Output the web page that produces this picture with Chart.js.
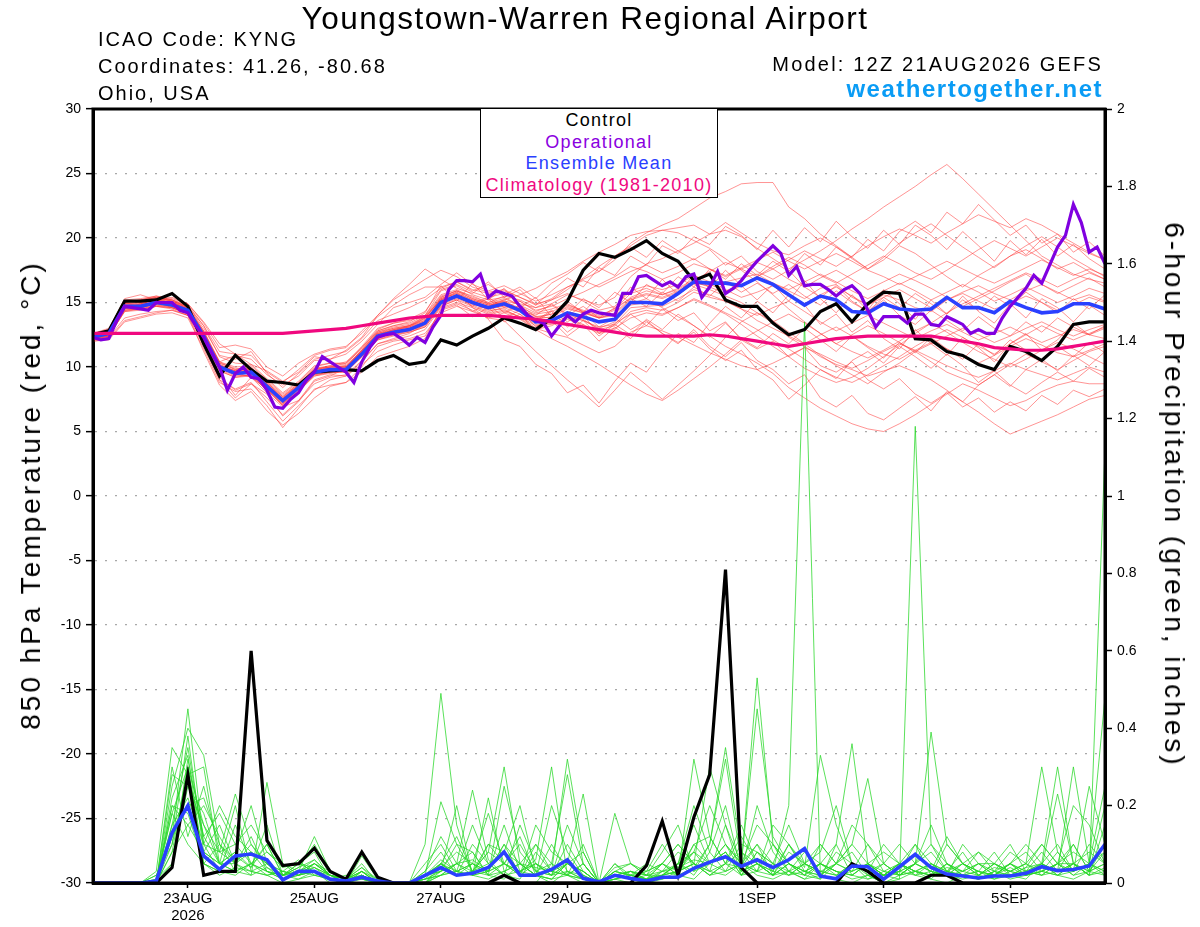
<!DOCTYPE html>
<html>
<head>
<meta charset="utf-8">
<script src="https://cdn.jsdelivr.net/npm/chart.js"></script>
<style>
  body { margin: 0; background: #fff; }
  #wrap { position: relative; width: 1200px; height: 927px; overflow: hidden; font-family: "Liberation Sans", Arial, sans-serif; color: #000; }
  #chart { position: absolute; left: 0; top: 0; }
  .txt { position: absolute; white-space: nowrap; }
  #title { left: 585px; top: 3px; font-size: 31.5px; line-height: 31.5px; letter-spacing: 1.5px; transform: translateX(-50%); }
  .info { left: 98px; font-size: 20px; line-height: 20px; letter-spacing: 2px; }
  .right { right: 97px; text-align: right; }
  #site { font-size: 24px; line-height: 24px; font-weight: bold; letter-spacing: 1.5px; color: #0a9cf5; top: 77px; }
  #legend { position: absolute; left: 480px; top: 108px; width: 236px; height: 87px; border: 1.5px solid #000; background: #fff; text-align: center; font-size: 18px; line-height: 21.5px; letter-spacing: 1.3px; padding-top: 1px; }
  .axtitle { position: absolute; font-size: 28px; line-height: 28px; letter-spacing: 3px; white-space: nowrap; }
</style>
</head>
<body>
<div id="wrap">
  <canvas id="chart" width="1200" height="927"></canvas>
  <div id="title" class="txt">Youngstown-Warren Regional Airport</div>
  <div class="txt info" style="top:29px">ICAO Code: KYNG</div>
  <div class="txt info" style="top:56px">Coordinates: 41.26, -80.68</div>
  <div class="txt info" style="top:83px">Ohio, USA</div>
  <div class="txt info right" style="top:54px; left:auto; letter-spacing:2.2px">Model: 12Z 21AUG2026 GEFS</div>
  <div id="site" class="txt right">weathertogether.net</div>
  <div id="legend">
    <div style="color:#000">Control</div>
    <div style="color:#8a00e0">Operational</div>
    <div style="color:#2a40ff">Ensemble Mean</div>
    <div style="color:#f0087f">Climatology (1981-2010)</div>
  </div>
  <div class="axtitle" id="ytitle" style="left:31px; top:495px; transform: translate(-50%, -50%) rotate(-90deg);">850 hPa Temperature (red, °C)</div>
  <div class="axtitle" id="y2title" style="left:1174px; top:495px; transform: translate(-50%, -50%) rotate(90deg);">6-hour Precipitation (green, inches)</div>
</div>
<script>
// forecast hours after 12Z 21AUG2026, ticks at 00Z of the labelled day
const tickHours = [36, 84, 132, 180, 252, 300, 348];
const tickLabels = ['23AUG', '25AUG', '27AUG', '29AUG', '1SEP', '3SEP', '5SEP'];
const yearLabel = '2026';

// 6-hourly series (65 values, 0..384h)
const controlTemp = [
  12.5, 12.8, 15.1, 15.1, 15.2, 15.7, 14.7, 11.8, 9.3, 10.9,
  9.8, 8.9, 8.8, 8.6, 9.6, 9.7, 9.8, 9.7, 10.5, 10.9,
  10.2, 10.4, 12.1, 11.7, 12.4, 13.0, 13.8, 13.4, 12.9, 13.8,
  15.1, 17.5, 18.8, 18.5, 19.1, 19.8, 18.8, 18.2, 16.7, 17.2,
  15.2, 14.7, 14.7, 13.4, 12.5, 12.9, 14.3, 14.9, 13.5, 14.9,
  15.8, 15.7, 12.2, 12.1, 11.2, 10.9, 10.2, 9.8, 11.6, 11.2,
  10.5, 11.6, 13.3, 13.5, 13.5
];
const meanTemp = [
  12.3, 12.6, 14.7, 14.7, 15.0, 14.8, 14.4, 12.4, 10.0, 9.5,
  9.6, 8.5, 7.4, 8.4, 9.6, 9.8, 9.8, 11.0, 12.4, 12.7,
  12.9, 13.4, 15.0, 15.5, 15.0, 14.6, 14.9, 14.4, 13.5, 13.6,
  14.2, 13.9, 13.5, 13.7, 15.0, 15.0, 14.9, 15.7, 16.6, 16.5,
  16.5, 16.3, 16.9, 16.4, 15.6, 14.8, 15.5, 15.2, 14.3, 14.2,
  14.9, 14.5, 14.4, 14.5, 15.4, 14.6, 14.6, 14.2, 15.1, 14.6,
  14.2, 14.3, 14.9, 14.9, 14.5
];
const climoTemp = [
  12.6, 12.6, 12.6, 12.6, 12.6, 12.6, 12.6, 12.6, 12.6, 12.6,
  12.6, 12.6, 12.6, 12.7, 12.8, 12.9, 13.0, 13.2, 13.4, 13.6,
  13.8, 13.9, 14.0, 14.0, 14.0, 14.0, 13.9, 13.8, 13.7, 13.5,
  13.3, 13.1, 12.9, 12.7, 12.5, 12.4, 12.4, 12.4, 12.4, 12.5,
  12.4, 12.2, 12.0, 11.8, 11.6, 11.8, 12.0, 12.2, 12.3, 12.4,
  12.4, 12.4, 12.4, 12.4, 12.2, 12.0, 11.8, 11.5, 11.4, 11.3,
  11.3, 11.4, 11.6, 11.8, 12.0
];
// operational run is 3-hourly (129 values)
const operationalTemp = [
  12.3, 12.1, 12.2, 13.6, 14.7, 14.6, 14.5, 14.4,
  15.0, 15.0, 15.0, 14.4, 14.2, 13.2, 12.3, 11.1,
  10.0, 8.2, 9.5, 10.0, 9.2, 9.1, 8.2, 6.9,
  6.8, 7.5, 8.0, 9.0, 9.6, 10.8, 10.4, 10.0,
  9.6, 8.8, 10.4, 11.5, 12.3, 12.5, 12.6, 12.2,
  11.7, 12.3, 11.9, 13.1, 14.0, 16.0, 16.7, 16.7,
  16.6, 17.2, 15.4, 15.9, 15.7, 15.5, 14.7, 14.0,
  13.6, 13.4, 12.4, 13.2, 14.0, 13.5, 14.1, 14.4,
  14.2, 14.1, 14.0, 15.7, 15.7, 17.0, 17.1, 16.7,
  16.3, 16.6, 16.2, 17.0, 17.2, 15.4, 16.2, 17.4,
  15.7, 16.1, 16.7, 17.5, 18.2, 18.8, 19.4, 18.8,
  17.1, 17.8, 16.3, 16.4, 16.4, 16.0, 15.5, 16.0,
  16.3, 15.7, 14.4, 13.1, 13.9, 13.9, 13.9, 13.4,
  14.1, 14.1, 13.3, 13.2, 13.9, 13.6, 13.3, 12.6,
  12.9, 12.6, 12.6, 13.8, 14.7, 15.4, 16.1, 17.1,
  16.5, 17.9, 19.3, 20.2, 22.6, 21.2, 18.9, 19.3,
  18.0
];

// ensemble members, 850 hPa temperature
const memberTemps = [
  [12.1,12.4,14.5,14.9,15.3,15.0,14.6,12.8,10.4,9.8,9.9,8.9,7.8,8.7,9.9,10.1,10.4,11.5,12.9,13.4,13.6,14.0,
   15.6,16.0,15.4,15.0,15.5,15.2,14.6,14.9,15.6,15.2,14.8,15.4,17.0,18.0,18.4,19.0,19.6,20.3,20.6,20.1,19.2,
   18.4,17.6,18.3,19.0,19.8,20.7,21.5,22.4,23.2,24.0,24.9,25.7,24.6,23.4,22.2,21.0,19.8,18.6,17.9,17.2,16.8,16.5],
  [12.4,12.8,15.0,15.2,15.5,15.3,14.9,13.4,11.5,11.7,11.4,10.0,9.3,10.3,11.0,11.4,11.6,12.6,13.9,14.8,15.6,16.2,
   16.2,16.6,16.0,15.7,15.9,15.4,14.8,15.3,16.2,16.8,17.4,18.3,19.6,20.4,21.0,21.5,22.3,23.1,23.6,24.2,24.3,
   24.3,22.4,21.5,20.3,19.4,18.5,17.6,18.3,19.4,18.8,17.9,17.0,16.2,17.1,17.8,18.6,19.1,18.4,17.6,18.1,17.4,16.8],
  [12.2,12.5,14.6,14.6,14.9,14.8,14.4,12.3,9.9,9.4,9.3,8.2,7.1,8.2,9.3,9.6,9.7,10.9,12.4,12.9,13.1,13.8,
   15.4,15.9,15.3,14.9,15.2,15.6,16.1,16.8,17.4,18.2,18.9,19.5,20.2,20.5,20.6,20.8,21.0,20.3,21.2,20.4,19.6,
   19.0,18.7,19.4,20.0,19.3,18.4,17.6,18.5,19.6,20.4,21.1,20.2,19.3,18.5,17.7,18.6,19.4,20.1,19.3,18.4,17.7,17.0],
  [12.0,12.2,13.6,13.9,14.2,14.4,14.0,11.2,8.6,7.4,8.1,6.6,5.5,6.4,7.6,8.5,8.8,9.6,10.8,11.2,11.6,12.2,
   14.5,14.9,14.4,13.8,13.6,12.4,11.2,10.1,9.0,8.0,6.9,8.2,9.6,8.6,7.5,8.6,9.7,10.9,12.3,13.5,14.2,
   13.6,12.7,11.8,10.9,10.1,9.4,8.7,9.6,10.3,11.2,10.4,9.6,9.1,8.6,9.4,10.2,11.0,10.4,9.8,10.5,11.2,11.6],
  [12.5,12.9,14.9,15.0,15.2,15.0,14.5,12.6,10.1,9.7,9.9,8.7,7.6,8.6,9.8,10.0,10.1,11.3,12.7,13.1,13.3,13.9,
   15.5,15.9,15.5,15.0,15.3,14.8,14.2,14.5,14.9,14.3,13.8,14.0,14.9,15.3,14.6,13.9,13.2,12.4,11.6,11.0,10.3,
   9.5,8.4,7.6,6.8,6.2,5.6,5.2,5.0,5.6,6.3,7.1,7.9,8.7,8.2,7.6,7.0,7.4,8.1,8.6,8.9,8.7,8.7],
  [12.3,12.6,14.8,14.8,15.1,14.9,14.5,12.5,10.2,9.6,9.8,8.6,7.5,8.5,9.6,9.9,9.9,11.2,12.5,12.9,13.2,13.6,
   15.1,15.6,15.1,14.6,14.9,14.5,13.7,13.9,14.5,14.2,13.8,14.1,15.2,15.6,15.3,15.8,16.4,16.0,15.5,15.0,14.2,
   13.4,12.3,11.6,10.8,10.2,9.8,9.3,9.7,10.1,9.6,9.0,8.2,7.3,6.5,5.6,4.8,5.3,5.8,6.3,6.9,7.5,7.8],
  [12.1,12.3,14.4,14.6,14.8,14.7,14.2,12.1,9.7,9.2,9.4,8.3,7.0,8.1,9.4,9.6,9.6,10.8,12.1,12.5,12.8,13.2,
   14.8,15.3,14.8,14.3,14.6,14.1,13.3,13.4,13.9,13.6,13.1,13.3,14.6,14.7,14.8,15.6,16.5,16.3,16.6,16.9,17.2,
   16.5,15.9,15.3,16.1,16.4,15.4,14.8,15.6,15.2,14.6,14.3,15.2,15.8,16.3,15.7,15.2,15.9,16.4,15.8,15.2,15.6,15.1],
  [12.6,13.0,15.2,15.3,15.5,15.2,14.8,13.2,10.8,10.3,10.2,9.1,8.0,8.9,10.1,10.3,10.2,11.5,12.8,13.2,13.4,14.0,
   15.9,16.3,15.6,15.2,15.4,14.8,13.9,13.8,14.2,13.7,12.9,13.2,14.3,14.6,14.4,15.0,15.8,15.4,15.1,14.5,13.6,
   13.0,12.4,11.8,12.5,13.1,12.4,11.6,11.0,10.6,11.3,11.9,11.4,10.8,10.3,10.9,11.6,12.2,11.7,11.1,10.8,11.3,11.8],
  [12.2,12.4,14.3,14.5,14.7,14.6,14.1,12.6,10.4,10.9,10.6,9.4,8.6,9.3,10.5,10.6,11.0,12.0,13.3,14.6,15.0,15.4,
   16.4,17.3,16.4,15.9,16.3,15.7,15.1,15.6,16.2,16.7,16.2,16.8,17.4,17.9,17.3,17.8,18.4,17.6,17.0,17.6,18.1,
   17.6,16.8,16.2,16.9,17.5,16.8,16.0,16.6,17.2,16.7,16.1,15.4,14.7,15.3,15.9,16.6,17.2,16.4,15.7,16.3,16.9,16.2],
  [12.0,12.1,13.5,13.8,14.1,14.2,13.8,11.4,8.8,8.1,8.3,7.0,5.3,6.8,8.3,8.6,8.8,10.0,11.6,12.0,12.2,12.6,
   14.2,14.7,14.3,13.8,14.2,13.7,12.9,13.2,13.8,13.3,12.7,13.0,13.8,14.2,14.0,14.6,15.3,14.8,14.2,13.6,12.9,
   12.1,11.4,10.6,9.8,9.2,8.8,9.4,10.1,10.8,11.6,12.3,12.9,12.3,11.6,11.0,11.8,12.5,13.2,12.6,12.1,12.6,13.1],
  [12.4,12.7,15.0,15.2,15.4,15.1,14.7,13.2,11.2,11.0,10.9,9.6,8.8,9.8,10.9,11.3,11.5,12.8,14.0,15.2,16.0,16.8,
   17.5,17.0,16.2,15.8,16.0,15.4,14.9,15.2,15.7,15.1,14.4,14.7,15.9,16.3,16.0,16.4,17.1,16.6,16.0,15.4,15.8,
   16.3,15.5,14.9,15.6,16.2,15.5,14.8,15.4,16.0,15.3,14.6,15.2,15.7,15.1,14.5,14.9,15.5,15.0,14.4,14.8,15.4,15.0],
  [12.3,12.7,14.7,14.8,15.1,14.9,14.4,12.4,10.0,9.6,9.7,8.5,7.4,8.4,9.7,9.9,10.0,11.2,12.6,12.9,13.1,13.5,
   15.2,15.6,15.0,14.4,14.5,13.8,12.9,12.2,11.6,10.9,10.2,9.4,8.6,7.9,7.4,8.2,9.1,10.0,11.0,12.1,12.8,
   13.5,14.1,13.4,12.6,11.8,12.5,13.2,12.6,11.9,11.2,11.8,12.4,13.0,12.5,11.9,12.4,13.0,13.5,12.9,12.4,12.9,13.3],
  [12.5,12.8,14.8,14.9,15.2,15.0,14.6,12.7,10.3,9.9,9.8,8.8,7.7,8.7,9.8,10.1,10.0,11.3,12.7,13.0,13.2,13.8,
   15.3,15.7,15.2,14.8,15.0,14.6,14.1,14.3,14.8,14.4,14.0,14.5,15.7,16.1,15.6,16.0,16.7,17.4,18.1,17.6,17.0,
   17.8,18.5,17.9,17.1,16.5,17.2,17.9,18.6,18.0,17.3,16.8,17.5,18.3,19.1,19.8,19.2,18.6,19.3,20.0,19.4,18.8,18.3],
  [12.2,12.5,14.5,14.7,14.9,14.7,14.3,12.3,9.9,9.4,9.6,8.4,7.2,8.3,9.5,9.8,9.8,11.0,12.3,12.7,12.9,13.3,
   14.9,15.4,14.9,14.5,14.7,14.3,13.6,13.7,14.1,13.6,13.0,13.5,14.8,15.0,14.7,15.3,16.0,15.6,15.1,14.5,14.0,
   14.6,15.1,14.3,13.5,12.8,13.4,14.0,13.4,12.8,12.2,12.8,13.3,12.7,12.1,12.6,13.1,12.5,11.9,12.4,12.9,12.5,12.2],
  [12.4,12.6,14.6,14.8,15.0,14.8,14.3,12.4,10.1,9.5,9.6,8.6,7.5,8.5,9.7,9.9,10.0,11.2,12.5,12.8,13.0,13.5,
   15.1,15.5,15.0,14.7,15.1,14.9,14.6,15.2,16.0,16.9,17.8,18.6,19.4,20.2,20.6,20.4,19.8,19.2,18.4,17.5,16.6,
   15.6,14.5,13.5,12.6,11.8,11.2,10.7,11.3,12.0,12.8,13.4,12.7,11.9,11.2,10.6,10.0,10.6,11.3,11.9,11.4,10.8,10.2],
  [12.3,12.5,14.6,14.6,14.9,14.8,14.4,12.5,10.0,9.5,9.5,8.5,7.4,8.4,9.6,9.7,9.7,10.9,12.3,12.6,12.8,13.3,
   15.0,15.4,14.9,14.5,14.8,14.4,13.8,14.1,14.7,14.3,13.9,14.4,15.4,15.9,15.6,16.1,16.8,16.4,15.9,16.4,17.0,
   16.5,16.0,16.6,17.2,16.6,15.9,15.3,15.9,16.5,15.9,15.2,15.8,16.4,15.8,15.1,15.6,16.2,15.6,15.0,15.5,16.1,15.7],
  [12.1,12.4,14.4,14.5,14.8,14.6,14.2,12.2,9.8,9.3,9.4,8.3,7.2,8.2,9.4,9.6,9.6,10.8,12.2,12.5,12.7,13.1,
   14.7,15.2,14.7,14.2,14.4,13.9,13.2,13.3,13.7,13.2,12.6,12.9,14.1,14.4,14.1,14.6,15.2,14.7,14.1,13.3,12.4,
   11.6,10.8,9.9,9.3,8.8,9.2,9.9,10.8,11.7,12.6,13.4,14.2,14.9,15.5,16.1,16.7,17.3,16.8,16.2,16.8,17.3,16.8],
  [12.4,12.8,14.9,15.0,15.3,15.1,14.6,12.6,10.2,9.7,9.8,8.7,7.6,8.6,9.8,10.0,10.1,11.3,12.6,13.0,13.2,13.7,
   15.3,15.8,15.2,14.8,15.0,14.5,13.9,14.1,14.6,14.2,13.8,14.2,15.3,15.7,15.4,15.9,16.6,16.2,15.7,16.3,17.0,
   17.6,18.3,19.0,18.4,17.8,18.6,19.4,20.1,20.7,20.2,19.6,20.4,21.1,21.8,21.3,20.8,21.5,21.0,20.3,19.6,18.9,18.3],
  [12.2,12.4,14.4,14.5,14.7,14.6,14.1,11.8,9.2,8.2,8.7,7.6,6.3,7.4,8.7,9.2,9.4,10.5,11.8,12.1,12.4,12.9,
   14.6,15.0,14.6,14.1,14.3,13.9,13.0,12.6,12.3,11.7,11.1,11.6,12.7,13.2,12.8,12.3,11.7,11.1,10.6,10.1,9.8,
   10.3,10.9,11.5,11.0,10.4,9.9,10.5,11.2,11.8,11.3,10.7,10.1,9.6,9.2,9.7,10.3,9.8,9.4,9.0,9.5,10.0,9.6],
  [12.5,12.9,15.1,15.2,15.4,15.1,14.7,12.8,10.4,10.0,10.1,9.0,7.9,8.8,10.0,10.3,10.3,11.6,13.0,13.4,13.7,14.3,
   16.0,16.4,15.8,15.4,15.7,15.1,14.4,14.7,15.3,15.8,16.4,17.0,17.8,17.4,16.8,17.3,18.0,17.6,17.1,17.7,18.3,
   18.9,18.2,17.6,18.2,18.8,18.2,17.5,17.0,16.4,17.0,17.6,18.2,17.6,17.0,16.5,17.1,17.7,18.3,17.7,17.1,17.6,17.1],
  [12.3,12.6,14.5,14.9,15.0,14.6,14.2,12.0,9.0,7.6,8.7,7.9,6.2,7.3,8.9,9.3,9.9,11.1,12.6,12.8,13.2,13.9,
   15.2,15.8,14.6,13.7,12.1,11.6,10.2,9.5,8.0,8.6,7.2,8.9,10.3,9.6,11.2,12.6,11.9,13.4,14.7,13.8,15.1,
   14.2,15.6,14.8,13.3,14.1,12.7,13.6,12.2,11.4,12.9,11.8,10.9,12.3,11.5,10.4,11.8,12.6,11.3,12.1,13.4,12.5,13.0],
  [12.6,12.9,15.3,15.6,15.2,15.4,14.9,13.5,11.8,11.0,10.2,9.7,8.9,9.6,10.8,10.6,11.3,12.3,14.0,15.3,16.4,17.6,
   16.8,16.1,15.7,16.6,15.4,16.0,14.8,15.9,16.9,16.2,17.7,17.1,18.6,17.9,19.4,18.8,20.1,19.5,20.9,20.2,19.1,
   20.6,19.3,20.8,19.7,21.3,20.1,19.2,20.6,19.5,21.0,20.2,19.1,20.5,19.4,18.2,19.8,18.7,19.9,18.6,19.5,18.4,17.6],
  [12.2,12.5,14.7,14.5,15.1,14.7,14.3,12.3,9.8,9.6,9.2,8.3,7.1,8.4,9.5,9.9,9.6,10.9,12.2,12.7,13.0,13.4,
   15.0,15.6,14.7,15.3,14.2,14.8,13.5,14.3,13.1,14.0,12.6,13.4,14.1,13.2,14.5,13.6,14.2,12.8,13.5,12.1,11.4,
   12.0,10.8,11.5,10.1,9.6,10.4,9.0,8.3,9.1,7.9,7.2,8.0,6.9,7.6,6.5,7.3,6.6,7.8,7.1,8.2,7.7,8.3],
  [12.4,12.7,14.9,15.0,15.3,15.2,14.6,12.7,10.3,9.8,10.0,8.8,7.7,8.6,9.9,10.0,10.3,11.4,12.8,13.2,13.5,14.2,
   16.3,15.1,16.5,15.2,16.1,14.6,15.4,13.9,15.1,14.2,15.6,14.5,16.2,15.3,16.8,15.6,17.2,16.1,17.5,16.3,15.2,
   16.4,15.1,16.7,15.3,14.2,15.6,14.4,16.0,14.9,13.7,15.2,14.1,15.5,14.3,13.4,14.9,13.8,15.3,14.6,13.5,14.8,14.0],
  [12.1,12.3,13.8,14.1,14.3,14.4,14.0,11.6,9.0,8.3,8.8,7.3,5.8,7.0,8.2,9.0,9.3,10.2,11.2,11.7,12.1,12.4,
   14.4,14.8,13.9,14.6,13.5,14.1,12.8,13.6,12.4,13.3,12.0,13.1,12.2,13.5,12.6,11.8,12.9,11.6,10.8,11.9,10.5,
   9.8,8.7,9.4,7.6,6.9,7.8,6.4,5.9,6.8,7.7,6.6,8.1,7.3,8.6,9.4,8.5,9.8,10.6,9.7,10.9,10.1,11.2],
  [12.3,12.6,14.7,14.7,15.0,14.9,14.5,12.6,10.1,9.7,9.7,8.7,7.5,8.5,9.7,10.0,10.0,11.2,12.5,12.8,13.1,13.6,
   15.2,15.7,15.1,14.7,15.2,14.4,14.0,14.9,14.1,15.3,14.6,15.8,15.0,16.4,15.7,17.0,16.2,17.6,16.8,18.0,17.1,
   18.2,17.4,18.8,17.9,19.3,18.5,19.9,19.0,20.5,21.3,20.4,22.0,21.1,22.6,21.4,20.2,21.0,19.6,20.3,18.9,19.7,18.6],
  [12.2,12.4,14.3,14.4,14.7,14.5,14.0,12.0,9.7,9.2,9.3,8.2,7.0,8.1,9.3,9.5,9.7,10.8,12.1,12.4,12.7,13.1,
   14.7,15.2,14.3,14.9,13.8,14.4,13.1,13.9,12.7,13.6,12.4,13.3,12.5,13.7,12.9,14.1,13.2,12.3,13.4,12.2,11.5,
   12.6,11.8,13.0,12.1,11.2,12.4,11.5,10.7,11.9,11.1,12.3,11.4,10.6,11.8,10.9,12.1,11.3,10.5,11.6,10.8,11.9,11.1],
  [12.5,12.8,15.0,15.1,15.4,15.2,14.7,13.0,10.9,10.6,11.2,9.5,8.4,9.5,10.6,10.9,11.2,12.2,13.6,14.1,14.6,15.2,
   16.1,16.6,15.9,16.4,15.6,16.2,15.3,16.5,17.2,18.1,17.4,18.6,19.3,18.5,19.8,19.0,18.3,19.1,17.9,18.6,17.4,
   16.8,17.5,16.2,15.4,16.3,15.1,14.3,15.2,14.0,13.3,14.4,13.6,12.8,13.9,13.0,12.4,13.5,12.7,13.8,13.1,12.5,13.2],
  [12.3,12.5,14.6,14.8,14.9,14.8,14.3,12.4,10.0,9.5,9.7,8.5,7.3,8.4,9.6,9.8,9.9,11.0,12.4,12.7,13.0,13.5,
   15.1,15.5,14.9,15.4,14.6,15.1,14.3,14.8,14.0,14.7,13.8,14.6,15.3,14.7,15.8,15.1,16.2,15.5,16.6,15.8,16.5,
   15.7,16.4,15.5,14.8,15.9,15.0,14.3,15.4,14.6,15.7,14.9,14.1,15.2,14.4,15.5,14.7,15.8,15.0,14.2,15.3,14.5,15.6],
  [12.4,12.7,14.8,14.9,15.2,15.0,14.5,12.2,9.4,7.8,9.2,8.0,6.9,7.4,9.0,9.4,9.3,10.4,11.8,12.2,12.6,13.3,
   15.4,15.9,15.3,14.9,15.1,14.3,13.6,14.4,13.5,14.2,13.1,13.8,12.9,13.6,12.6,11.9,12.7,11.4,10.5,11.3,9.8,
   9.0,7.5,8.6,9.8,9.1,10.5,11.2,10.3,11.6,10.8,9.9,11.0,10.1,8.8,9.7,8.6,7.9,8.8,9.6,8.9,9.9,9.2]
];

// 6-hour precipitation (inches)
const controlPrecip = [
  0, 0, 0, 0, 0, 0.04, 0.28, 0.02, 0.03, 0.03,
  0.60, 0.11, 0.045, 0.05, 0.09, 0.03, 0.01, 0.08, 0.015, 0,
  0, 0, 0, 0, 0, 0, 0.02, 0, 0, 0,
  0, 0, 0, 0, 0, 0.045, 0.16, 0.02, 0.17, 0.28,
  0.81, 0.04, 0, 0, 0, 0, 0, 0, 0.05, 0.03,
  0, 0, 0, 0.02, 0.02, 0, 0, 0, 0, 0,
  0, 0, 0, 0, 0
];
const meanPrecip = [
  0, 0, 0, 0, 0.005, 0.13, 0.20, 0.07, 0.035, 0.07,
  0.075, 0.06, 0.008, 0.03, 0.03, 0.01, 0.005, 0.015, 0.005, 0,
  0, 0.02, 0.04, 0.02, 0.025, 0.04, 0.08, 0.02, 0.02, 0.035,
  0.06, 0.012, 0.003, 0.02, 0.012, 0.005, 0.015, 0.015, 0.038, 0.054,
  0.068, 0.043, 0.06, 0.04, 0.06, 0.089, 0.018, 0.011, 0.044, 0.042,
  0.01, 0.042, 0.074, 0.04, 0.023, 0.018, 0.013, 0.018, 0.018, 0.025,
  0.042, 0.032, 0.035, 0.044, 0.10
];
const memberPrecips = [
  [0,0,0,0,0,0.12,0.45,0.10,0.03,0.02, 0.05,0.02,0,0.01,0.03,0,0,0.02,0,0, 0,0.10,0.49,0.15,0.02,0.01,0.03,0,0,0.05,
   0.02,0,0,0.01,0,0,0.02,0.05,0.08,0.03, 0.02,0.05,0.53,0.10,0.03,0.01,0.02,0.01,0,0.02, 0,0.01,0.03,0.01,0,0.02,0.01,0.03,0.02,0.01, 0.05,0.02,0.01,0.03,0.10],
  [0,0,0,0,0.03,0.35,0.28,0.12,0.05,0.08, 0.04,0.10,0.02,0.04,0.06,0.02,0,0.03,0,0, 0,0.02,0.21,0.10,0.08,0.02,0.01,0.05,0.02,0,
   0.03,0.01,0,0.02,0.01,0,0.01,0.02,0.32,0.12, 0.05,0.02,0.08,0.03,0.20,1.45,0.02,0.01,0.05,0.02, 0,0.02,0.05,0.08,0.03,0.02,0.01,0.02,0.04,0.02, 0.03,0.05,0.02,0.03,0.05],
  [0,0,0,0,0,0.25,0.40,0.33,0.10,0.06, 0.08,0.03,0.01,0.03,0.12,0.03,0.01,0.04,0.01,0, 0,0,0.05,0.12,0.03,0.08,0.30,0.05,0.02,0.01,
   0.02,0.05,0,0.03,0.02,0.01,0.02,0.05,0.03,0.10, 0.32,0.05,0.03,0.02,0.05,0.03,0.01,0.10,0.36,0.05, 0.02,0.01,1.18,0.10,0.03,0.02,0.01,0.03,0.05,0.02, 0.03,0.02,0.05,0.02,0.04],
  [0,0,0,0,0,0.18,0.30,0.15,0.08,0.23, 0.10,0.05,0.02,0.05,0.08,0.01,0,0.07,0.01,0, 0,0,0.02,0.05,0.24,0.06,0.02,0.01,0.08,0.03,
   0.32,0.08,0,0.02,0.01,0.03,0.05,0.02,0.01,0.05, 0.08,0.03,0.05,0.02,0.10,0.04,0.33,0.15,0.05,0.01, 0.02,0.03,0.05,0.39,0.10,0.05,0.02,0.01,0.03,0.05, 0.30,0.08,0.03,0.05,0.02],
  [0,0,0,0,0.02,0.10,0.38,0.08,0.05,0.03, 0.02,0.26,0.05,0.02,0.04,0.01,0.02,0.01,0,0, 0,0.05,0.10,0.03,0.05,0.18,0.05,0.12,0.02,0.01,
   0.05,0.23,0,0.02,0.03,0.01,0.05,0.10,0.05,0.03, 0.15,0.05,0.02,0.01,0.03,0.02,0.05,0.03,0.01,0.02, 0.01,0.03,0.02,0.01,0.05,0.03,0.08,0.03,0.01,0.02, 0.04,0.23,0.05,0.02,1.12],
  [0,0,0,0,0,0.22,0.33,0.05,0.10,0.05, 0.03,0.02,0.03,0.06,0.02,0.01,0,0.02,0,0, 0,0,0.03,0.20,0.02,0.03,0.05,0.03,0.06,0.30,
   0.02,0.01,0,0.05,0.01,0,0.03,0.04,0.08,0.20, 0.10,0.05,0.45,0.12,0.05,0.03,0.02,0.05,0.10,0.27, 0.05,0.02,0.03,0.02,0.10,0.05,0.02,0.05,0.10,0.03, 0.05,0.03,0.30,0.05,0.48],
  [0,0,0,0,0,0.08,0.15,0.20,0.12,0.05, 0.02,0.04,0.01,0.03,0.05,0.02,0.01,0.05,0,0, 0,0.03,0.08,0.02,0.10,0.05,0.08,0.20,0.03,0.02,
   0.10,0.03,0,0.18,0.05,0.02,0.01,0.03,0.05,0.02, 0.05,0.12,0.05,0.03,0.02,0.05,0.08,0.20,0.05,0.03, 0.02,0.05,0.02,0.03,0.12,0.05,0.03,0.02,0.05,0.08, 0.03,0.05,0.10,0.03,0.20],
  [0,0,0,0,0,0.15,0.22,0.10,0.20,0.12, 0.08,0.05,0.02,0.04,0.10,0.03,0.01,0.03,0.01,0, 0,0.02,0.05,0.03,0.02,0.22,0.03,0.05,0.10,0.05,
   0.28,0.05,0,0.03,0.02,0.01,0.05,0.02,0.04,0.10, 0.35,0.08,0.05,0.02,0.03,0.01,0.05,0.03,0.02,0.05, 0.03,0.05,0.10,0.02,0.03,0.05,0.08,0.05,0.02,0.04, 0.10,0.05,0.20,0.15,0.05],
  [0,0,0,0,0.01,0.05,0.25,0.15,0.05,0.08, 0.20,0.05,0.03,0.02,0.03,0.01,0,0.02,0,0, 0,0,0.04,0.08,0.05,0.03,0.10,0.05,0.04,0.03,
   0.02,0.01,0,0.02,0.03,0.01,0.02,0.05,0.20,0.08, 0.03,0.10,0.08,0.05,0.15,0.05,0.10,0.05,0.03,0.05, 0.02,0.03,0.05,0.15,0.05,0.02,0.03,0.01,0.02,0.03, 0.08,0.03,0.05,0.02,0.15],
  [0,0,0,0,0,0.20,0.18,0.05,0.03,0.15, 0.05,0.08,0.05,0.03,0.02,0.03,0.01,0.01,0,0, 0,0.01,0.03,0.05,0.03,0.08,0.05,0.02,0.15,0.08,
   0.05,0.02,0,0.01,0.02,0.03,0.10,0.04,0.06,0.05, 0.08,0.02,0.03,0.10,0.05,0.02,0.01,0.05,0.03,0.10, 0.05,0.02,0.03,0.05,0.02,0.10,0.05,0.02,0.05,0.10, 0.05,0.30,0.05,0.03,0.08],
  [0,0,0,0,0,0.30,0.12,0.25,0.08,0.10, 0.15,0.08,0.04,0.05,0.04,0.02,0,0.03,0,0, 0,0.02,0.05,0.02,0.05,0.03,0.15,0.03,0.02,0.20,
   0.08,0.02,0,0.03,0.05,0.02,0.03,0.08,0.05,0.30, 0.15,0.02,0.08,0.05,0.03,0.08,0.05,0.03,0.02,0.05, 0.02,0.05,0.03,0.02,0.04,0.03,0.05,0.02,0.05,0.03, 0.05,0.10,0.03,0.25,0.10],
  [0,0,0,0,0.02,0.12,0.20,0.08,0.15,0.05, 0.12,0.03,0.02,0.03,0.06,0.02,0.01,0.02,0,0, 0,0.03,0.12,0.05,0.08,0.02,0.05,0.10,0.03,0.05,
   0.02,0.10,0,0.05,0.02,0.01,0.02,0.03,0.10,0.05, 0.03,0.05,0.10,0.02,0.05,0.02,0.10,0.05,0.08,0.02, 0.05,0.10,0.05,0.03,0.02,0.01,0.02,0.04,0.03,0.05, 0.02,0.05,0.08,0.05,0.03],
  [0,0,0,0,0,0.10,0.28,0.30,0.05,0.03, 0.05,0.10,0.02,0.01,0.02,0.01,0,0.01,0,0, 0,0.01,0.02,0.03,0.15,0.05,0.02,0.03,0.05,0.02,
   0.15,0.05,0,0.02,0.01,0.02,0.08,0.15,0.03,0.05, 0.10,0.03,0.20,0.08,0.03,0.05,0.03,0.02,0.05,0.03, 0.10,0.05,0.02,0.05,0.03,0.08,0.02,0.05,0.03,0.02, 0.05,0.02,0.03,0.10,0.05],
  [0,0,0,0,0,0.05,0.32,0.12,0.18,0.10, 0.05,0.03,0.01,0.02,0.05,0.03,0.01,0.04,0,0, 0,0.02,0.06,0.03,0.02,0.10,0.08,0.05,0.02,0.01,
   0.05,0.03,0,0.01,0.02,0.05,0.03,0.02,0.10,0.12, 0.05,0.08,0.03,0.15,0.10,0.03,0.05,0.10,0.02,0.01, 0.03,0.02,0.05,0.10,0.05,0.02,0.01,0.03,0.08,0.05, 0.03,0.08,0.03,0.05,0.25],
  [0,0,0,0,0,0.28,0.25,0.18,0.05,0.20, 0.03,0.02,0.03,0.02,0.03,0.01,0,0.02,0,0, 0,0.02,0.03,0.10,0.03,0.02,0.25,0.08,0.03,0.02,
   0.03,0.02,0,0.02,0.01,0,0.02,0.05,0.02,0.08, 0.20,0.03,0.05,0.02,0.08,0.05,0.02,0.05,0.15,0.10, 0.03,0.02,0.05,0.03,0.02,0.05,0.03,0.08,0.02,0.03, 0.02,0.05,0.05,0.02,0.03],
  [0,0,0,0,0.01,0.18,0.10,0.05,0.03,0.07, 0.04,0.15,0.02,0.03,0.05,0.02,0.01,0.03,0,0, 0,0,0.02,0.05,0.06,0.03,0.05,0.02,0.10,0.03,
   0.05,0.08,0,0.04,0.05,0.03,0.05,0.03,0.05,0.03, 0.05,0.04,0.10,0.05,0.02,0.03,0.05,0.02,0.03,0.05, 0.08,0.05,0.03,0.02,0.05,0.02,0.03,0.02,0.05,0.03, 0.02,0.03,0.05,0.08,0.05],
  [0,0,0,0,0,0.08,0.30,0.05,0.02,0.04, 0.03,0.05,0.01,0.02,0.03,0.01,0,0.02,0,0, 0,0.01,0.05,0.02,0.03,0.05,0.02,0.15,0.05,0.02,
   0.05,0.03,0,0.02,0.03,0.02,0.05,0.10,0.05,0.02, 0.05,0.15,0.05,0.02,0.05,0.03,0.02,0.08,0.05,0.03, 0.02,0.05,0.03,0.05,0.02,0.03,0.05,0.05,0.03,0.02, 0.03,0.05,0.02,0.05,0.03],
  [0,0,0,0,0,0.15,0.35,0.10,0.08,0.05, 0.10,0.04,0.02,0.03,0.04,0.02,0.01,0.02,0,0, 0,0.02,0.03,0.05,0.02,0.03,0.10,0.02,0.05,0.03,
   0.02,0.05,0,0.02,0.01,0.01,0.03,0.05,0.15,0.05, 0.10,0.05,0.03,0.05,0.02,0.05,0.03,0.05,0.10,0.05, 0.02,0.03,0.10,0.05,0.03,0.02,0.05,0.03,0.02,0.04, 0.05,0.03,0.10,0.03,0.05],
  [0,0,0,0,0,0.12,0.20,0.22,0.10,0.03, 0.05,0.03,0.02,0.05,0.03,0.02,0,0.02,0,0, 0,0.01,0.02,0.03,0.05,0.02,0.03,0.05,0.02,0.10,
   0.03,0.01,0,0.03,0.02,0.01,0.02,0.03,0.05,0.02, 0.03,0.05,0.15,0.10,0.05,0.02,0.05,0.03,0.02,0.05, 0.02,0.05,0.03,0.02,0.05,0.03,0.02,0.05,0.03,0.05, 0.10,0.05,0.03,0.05,0.08],
  [0,0,0,0,0,0.20,0.15,0.08,0.05,0.05, 0.08,0.05,0.03,0.02,0.05,0.02,0.01,0.03,0,0, 0,0.02,0.05,0.02,0.03,0.10,0.05,0.03,0.05,0.02,
   0.05,0.03,0,0.01,0.03,0.02,0.02,0.03,0.08,0.05, 0.08,0.02,0.05,0.03,0.10,0.05,0.03,0.02,0.05,0.03, 0.05,0.02,0.05,0.03,0.02,0.05,0.03,0.02,0.05,0.02, 0.03,0.02,0.05,0.03,0.02]
];

document.addEventListener("DOMContentLoaded", function() {
    const FONT = '"Liberation Sans", Arial, sans-serif';

    // index -> forecast hour
    const toPoints = (values, step) => values.map((v, i) => ({ x: i * step, y: v }));

    const line = (values, step, axis, color, width, order) => ({
        data: toPoints(values, step),
        yAxisID: axis,
        borderColor: color,
        borderWidth: width,
        pointRadius: 0,
        fill: false,
        tension: 0,
        order: order
    });

    const datasets = [];
    memberTemps.forEach(m => datasets.push(line(m, 6, 'y', 'rgba(255,55,55,0.6)', 0.9, 8)));
    memberPrecips.forEach(m => datasets.push(line(m, 6, 'y2', 'rgba(40,215,40,0.85)', 0.9, 7)));
    datasets.push(line(controlPrecip, 6, 'y2', '#000000', 3.2, 6));
    datasets.push(line(meanPrecip, 6, 'y2', '#2a40ff', 3.6, 5));
    datasets.push(line(controlTemp, 6, 'y', '#000000', 3.2, 4));
    datasets.push(line(meanTemp, 6, 'y', '#2a40ff', 3.6, 3));
    datasets.push(line(operationalTemp, 3, 'y', '#8000e0', 3.2, 2));
    datasets.push(line(climoTemp, 6, 'y', '#f0087f', 3.2, 1));

    // thick frame around the plot area
    const framePlugin = {
        id: 'frame',
        afterDraw(chart) {
            const { ctx, chartArea: a } = chart;
            ctx.save();
            ctx.strokeStyle = '#000';
            ctx.lineWidth = 3;
            ctx.strokeRect(a.left, a.top, a.right - a.left, a.bottom - a.top);
            ctx.restore();
        }
    };

    const tickFont = { family: FONT, size: 14 };

    new Chart(document.getElementById('chart').getContext('2d'), {
        type: 'line',
        data: { datasets: datasets },
        options: {
            responsive: false,
            animation: false,
            events: [],
            layout: { padding: { top: 109, left: 0, right: 0, bottom: 0 } },
            plugins: { legend: { display: false }, tooltip: { enabled: false }, title: { display: false } },
            scales: {
                x: {
                    type: 'linear',
                    min: 0,
                    max: 384,
                    afterBuildTicks: scale => { scale.ticks = tickHours.map(v => ({ value: v })); },
                    afterFit: scale => { scale.height = 44; },
                    ticks: {
                        autoSkip: false,
                        maxRotation: 0,
                        padding: 3,
                        color: '#000',
                        font: { family: FONT, size: 15, lineHeight: 1.1 },
                        callback: v => {
                            const k = tickHours.indexOf(v);
                            if (k < 0) return '';
                            return k === 0 ? [tickLabels[k], yearLabel] : tickLabels[k];
                        }
                    },
                    grid: { display: true, drawOnChartArea: false, drawTicks: true, tickLength: 5, color: '#000', tickWidth: 1.5 },
                    border: { display: true, color: '#000', width: 3 }
                },
                y: {
                    position: 'left',
                    min: -30,
                    max: 30,
                    afterFit: scale => { scale.width = 93; },
                    ticks: { stepSize: 5, padding: 5, color: '#000', font: tickFont },
                    grid: {
                        color: c => (c.tick && Math.abs(c.tick.value) === 30) ? 'rgba(0,0,0,0)' : '#a8a8a8',
                        lineWidth: 1.3,
                        tickColor: '#000',
                        tickLength: 7,
                        tickWidth: 1.5
                    },
                    border: { display: true, color: '#000', width: 3, dash: [2, 8] }
                },
                y2: {
                    position: 'right',
                    min: 0,
                    max: 2,
                    afterFit: scale => { scale.width = 95; },
                    ticks: {
                        stepSize: 0.2,
                        padding: 5,
                        color: '#000',
                        font: tickFont,
                        callback: v => String(Math.round(v * 10) / 10)
                    },
                    grid: { drawOnChartArea: false, tickColor: '#000', tickLength: 7, tickWidth: 1.5, color: '#000' },
                    border: { display: true, color: '#000', width: 3 }
                }
            }
        },
        plugins: [framePlugin]
    });
});
</script>
</body>
</html>
